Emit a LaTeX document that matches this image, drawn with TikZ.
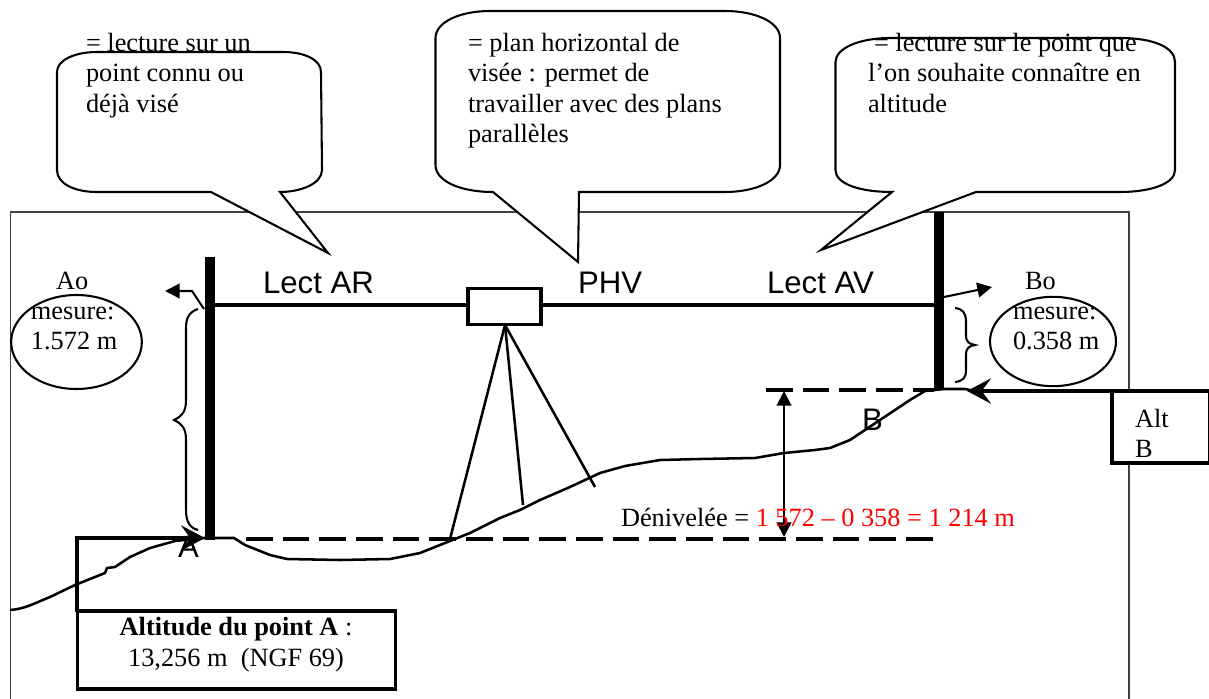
\documentclass[tikz,border=0pt]{standalone}
\usepackage{fontspec}
\setmainfont{Liberation Serif}
\newfontfamily\arialfont{Liberation Sans}
\usetikzlibrary{arrows.meta,shapes.geometric}
\newcommand{\bodysize}{\fontsize{19.75}{22.5}\selectfont}
\newcommand{\labelsize}{\arialfont\fontsize{23.4}{27}\selectfont}
\newcommand{\blocktext}[2]{\parbox[t]{#1pt}{\raggedright\bodysize #2}}
\definecolor{framegray}{HTML}{404040}
\definecolor{redtext}{HTML}{FF0000}
\tikzset{
  x=0.75pt,y=-0.75pt,
  body/.style={anchor=base west,inner sep=0pt,outer sep=0pt,font=\bodysize},
  sanslabel/.style={anchor=base west,inner sep=0pt,outer sep=0pt,font=\labelsize},
  frameline/.style={draw=framegray,line width=0.8pt},
  bubble/.style={draw=black,fill=white,line width=1.55pt,line join=miter},
  heavy line/.style={draw=black,line width=2.35pt},
  medium line/.style={draw=black,line width=1.9pt},
  thin line/.style={draw=black,line width=1.55pt},
  dashline/.style={draw=black,line width=2.35pt,dash pattern=on 20pt off 7.5pt},
  pole/.style={fill=black,draw=none,inner sep=0pt,outer sep=0pt,minimum width=7.5pt},
  whitebox/.style={draw=black,fill=white,line width=2.35pt,inner sep=0pt,outer sep=0pt},
  mesure/.style={draw=black,fill=white,line width=1.55pt,ellipse,inner sep=0pt,outer sep=0pt},
  tiparrow/.style={-{Triangle[length=11pt,width=11pt]}},
  bigtip/.style={-{Stealth[length=18pt,width=19pt,inset=7pt]}},
  bothtip/.style={{Triangle[length=11pt,width=11pt]}-{Triangle[length=11pt,width=11pt]}}
}
\begin{document}
\begin{tikzpicture}
\useasboundingbox (0,0) rectangle (1209,699);
% frame
\draw[frameline] (10.5,699) -- (10.5,212) -- (1129,212) -- (1129,699);
% speech bubbles
\draw[bubble] (57,72) .. controls (57,60) and (75,52) .. (97,52) -- (283,52)
  .. controls (305,52) and (321,60) .. (321,72) -- (322,170)
  .. controls (322,184) and (300,192) .. (280,192) -- (328,253) -- (211,192) -- (97,192)
  .. controls (75,192) and (57,184) .. (57,170) -- cycle;
\draw[bubble] (435.5,38) .. controls (435.5,22) and (460,11) .. (490,11) -- (725,11)
  .. controls (755,11) and (780,22) .. (780,38) -- (780,165)
  .. controls (780,181) and (755,192) .. (725,192) -- (579,192) -- (578,262) -- (493,192)
  .. controls (460,192) and (435.5,181) .. (435.5,165) -- cycle;
\draw[bubble] (835.5,62) .. controls (835.5,48) and (860,38) .. (890,38) -- (1120,38)
  .. controls (1155,38) and (1175,48) .. (1175,62) -- (1175,170)
  .. controls (1175,184) and (1150,192) .. (1120,192) -- (976,192) -- (821,250) -- (892,192)
  .. controls (860,192) and (835.5,184) .. (835.5,170) -- cycle;
% poles
\node[pole,minimum height=212.25pt] (poleA) at (210,398.5) {};
\node[pole,minimum height=133.5pt] (poleB) at (939,301) {};
% instrument and line of sight
\node[whitebox,minimum width=54.75pt,minimum height=27pt] (instr) at (504.5,306.5) {};
\coordinate (sightA) at (215,305);
\coordinate (sightB) at (934,305);
\draw[heavy line] (sightA) -- (instr.west |- sightA);
\draw[heavy line] (instr.east |- sightB) -- (sightB);
% tripod
\coordinate (apex) at (505,325);
\coordinate (footL) at (450,539);
\coordinate (footM) at (523,505);
\coordinate (footR) at (595,487);
\draw[medium line] (apex) -- (footL);
\draw[medium line] (apex) -- (footM);
\draw[medium line] (apex) -- (footR);
% reference levels
\coordinate (dashAstart) at (246,539);
\coordinate (dashAend) at (933,539);
\coordinate (dashBstart) at (766,390);
\coordinate (dashBend) at (934,390);
\draw[dashline] (dashAstart) -- (dashAend);
\draw[dashline] (dashBstart) -- (dashBend);
% ground
\draw[medium line,line join=round] (10,610) .. controls (25,609) and (35,603) .. (50,597)
  -- (75,585) -- (105,573) -- (107,568) -- (115,567) -- (130,557) -- (150,548) -- (175,541)
  -- (204,538) -- (234,538) -- (245,545) -- (270,555) -- (287,559) -- (340,560) -- (390,559)
  -- (400,557) -- (420,553) -- (440,545) -- (450,541) -- (470,533) -- (500,518) -- (520,510)
  -- (540,500) -- (570,487) -- (600,473) -- (625,466) -- (660,460) -- (700,459) -- (755,458)
  -- (784,453) -- (815,450) -- (830,448) -- (850,440) -- (880,420) -- (910,400) -- (925,391)
  -- (944,389) -- (965,389) -- (980,392);
% height difference
\coordinate (diffTop) at (784,391);
\coordinate (diffBot) at (784,537);
\draw[thin line,bothtip] (diffTop) -- (diffBot);
% pole arrows
\coordinate (armA) at (204,309);
\coordinate (armAbend) at (192,291);
\coordinate (armAend) at (165,291);
\draw[thin line,tiparrow] (armA) -- (armAbend) -- (armAend);
\coordinate (armB) at (944,297);
\coordinate (armBend) at (992,287);
\draw[thin line,tiparrow] (armB) -- (armBend);
% braces
\draw[thin line] (198,309) .. controls (189,312) and (186,318) .. (186,328) -- (186,400)
  .. controls (186,412) and (182,416) .. (174,420) .. controls (182,424) and (186,428) .. (186,440)
  -- (186,510) .. controls (186,522) and (190,528) .. (198,530);
\draw[thin line] (955,308) .. controls (963,309) and (966,313) .. (966,322) -- (966,335)
  .. controls (966,342) and (969,344) .. (975,345) .. controls (969,346) and (966,348) .. (966,355)
  -- (966,370) .. controls (966,378) and (963,381) .. (955,382);
% measure ellipses
\node[mesure,minimum width=98pt,minimum height=70.5pt] (ellA) at (76.5,342) {};
\node[mesure,minimum width=94.5pt,minimum height=67pt] (ellB) at (1053,341.5) {};
% altitude boxes
\node[whitebox,minimum width=238.5pt,minimum height=58.5pt] (altA) at (236.5,650) {};
\coordinate (altAleg) at (77,612);
\coordinate (altAcorner) at (77,538);
\coordinate (arrowAtip) at (205,538);
\draw[heavy line,bigtip] (altAleg) -- (altAcorner) -- (arrowAtip);
\node[whitebox,minimum width=73pt,minimum height=54pt] (altB) at (1160.7,427) {};
\coordinate (altBstart) at (1209,391);
\coordinate (arrowBtip) at (967,391);
\draw[heavy line,bigtip] (altBstart) -- (arrowBtip);
% sans labels
\node[sanslabel] (lectAR) at (263,293) {Lect AR};
\node[sanslabel] (phv) at (578,293) {PHV};
\node[sanslabel] (lectAV) at (767,293) {Lect AV};
\node[sanslabel] (ptA) at (178,557) {A};
\node[sanslabel] (ptB) at (862,430) {B};
% bubble texts
\node[body] (txtA) at (86,52) {\blocktext{180}{= lecture sur un\\point connu ou\\déjà visé}};
\node[body] (txtP) at (468,52) {\blocktext{240}{= plan horizontal de\\visée : permet de\\travailler avec des plans\\parallèles}};
\node[body] (txtB) at (874,52) {= lecture sur le point que};
\node[body] (txtB2) at (868,82) {\blocktext{240}{l’on souhaite connaître en\\altitude}};
% measures
\node[body] (ao) at (56,289) {Ao};
\node[body] (mesA) at (31,319) {\blocktext{80}{mesure:\\1.572 m}};
\node[body] (bo) at (1025,289) {Bo};
\node[body] (mesB) at (1013,319) {\blocktext{80}{mesure:\\0.358 m}};
% boxes' text
\node[body,anchor=base] (altAt1) at (236,635) {\textbf{Altitude du point A} :};
\node[body,anchor=base] (altAt2) at (236,666) {13,256 m\ \ (NGF 69)};
\node[body] (altBt) at (1135,427) {\blocktext{50}{Alt\\B}};
% result
\node[body] (deniv) at (621,526) {Dénivelée = \textcolor{redtext}{1 572 – 0 358 = 1 214 m}};
\end{tikzpicture}
\end{document}
